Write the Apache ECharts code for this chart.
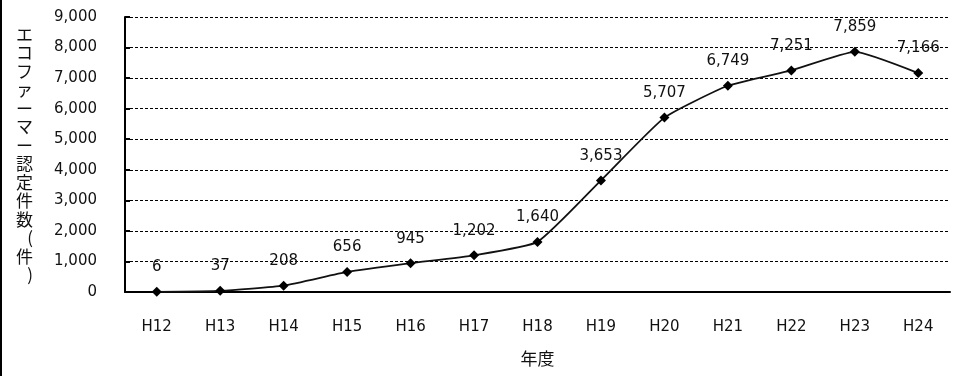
<!DOCTYPE html>
<html>
<head>
<meta charset="utf-8">
<script src="https://cdn.jsdelivr.net/npm/echarts@6/dist/echarts.min.js"></script>
<style>
  html, body { margin: 0; padding: 0; background: #fff; }
  #chart { width: 955px; height: 376px; }
</style>
</head>
<body>
<div id="chart"></div>
<script>
// 年度
var years = ["H12", "H13", "H14", "H15", "H16", "H17", "H18", "H19", "H20", "H21", "H22", "H23", "H24"];
// エコファーマー認定件数
var counts = [6, 37, 208, 656, 945, 1202, 1640, 3653, 5707, 6749, 7251, 7859, 7166];
var yTitle = "エコファーマー認定件数(件)";
var xTitle = "年度";

var dom = document.getElementById("chart");
var myChart = echarts.init(dom, null, { renderer: "canvas" });

function fmt(v) {
  return v.toLocaleString("en-US");
}

var option = {
  backgroundColor: "#fff",
  animation: false,
  textStyle: { fontFamily: "DejaVu Sans, Noto Sans CJK JP" },
  grid: { left: 125, right: 5, top: 17, bottom: 84, outerBoundsMode: "none", containLabel: false },
  graphic: [
    {
      type: "rect",
      left: 0,
      top: 0,
      shape: { width: 2, height: 376 },
      style: { fill: "#000" },
    },
  ],
  xAxis: {
    type: "category",
    data: years,
    boundaryGap: true,
    name: xTitle,
    nameLocation: "middle",
    nameGap: 58,
    nameTextStyle: { color: "#111", fontSize: 17, fontFamily: "Noto Sans CJK JP" },
    axisLine: { lineStyle: { color: "#000", width: 2 } },
    axisTick: { inside: true, length: 5, lineStyle: { color: "#000", width: 2 } },
    axisLabel: { color: "#111", fontSize: 15, margin: 28 },
  },
  yAxis: {
    type: "value",
    min: 0,
    max: 9000,
    interval: 1000,
    name: yTitle.split("").join("\n"),
    nameLocation: "middle",
    nameRotate: 0,
    nameGap: 92,
    nameTextStyle: {
      color: "#111",
      fontSize: 17,
      lineHeight: 18.5,
      fontFamily: "Noto Sans CJK JP",
    },
    axisLine: { show: true, lineStyle: { color: "#000", width: 2 } },
    axisTick: { show: true, inside: true, length: 5, lineStyle: { color: "#000", width: 2 } },
    axisLabel: {
      color: "#111",
      fontSize: 15,
      margin: 28,
      formatter: fmt,
    },
    splitLine: { show: true, lineStyle: { color: "#000", type: [3, 2], width: 1 } },
  },
  series: [
    {
      type: "line",
      data: counts,
      smooth: 0.15,
      symbol: "diamond",
      symbolSize: 10,
      itemStyle: { color: "#000" },
      lineStyle: { color: "#111", width: 1.8 },
      label: {
        show: true,
        position: "top",
        distance: 12,
        color: "#111",
        fontSize: 15,
        formatter: function (p) {
          return fmt(p.value);
        },
      },
    },
  ],
};

myChart.setOption(option);
window.addEventListener("resize", myChart.resize);
</script>
</body>
</html>
